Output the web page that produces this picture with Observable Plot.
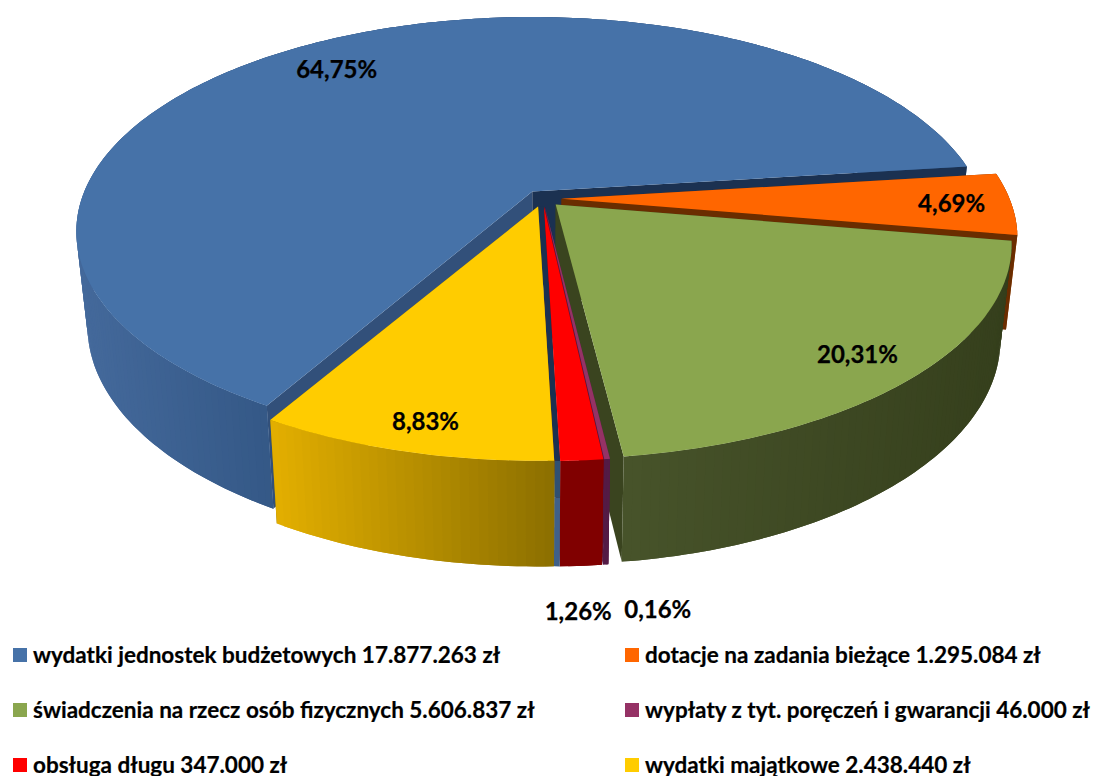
<!DOCTYPE html>
<html lang="pl">
<head>
<meta charset="utf-8">
<script src="https://cdn.jsdelivr.net/npm/d3@7"></script>
<script src="https://cdn.jsdelivr.net/npm/@observablehq/plot@0.6"></script>
<style>
html,body{margin:0;padding:0;background:#fff;overflow:hidden;width:1096px;height:776px}
#chart svg{display:block;background:#fff}
#legend{position:absolute;left:13px;top:648px;display:grid;grid-template-columns:612px 470px;grid-auto-rows:55px;font:700 22.5px Lato,sans-serif;color:#000;white-space:nowrap;-webkit-text-stroke:0.2px #000}
#legend div{display:flex;align-items:flex-start;height:55px}
#legend i{display:block;width:14px;height:14px;margin-right:6px;flex:none}
#legend span{display:block;line-height:14px;position:relative;top:0}
</style>
</head>
<body>
<div id="chart"></div>
<div id="legend"></div>
<script>
// Data, in the order the slices run clockwise
const names = ["wydatki jednostek budżetowych","dotacje na zadania bieżące","świadczenia na rzecz osób fizycznych","wypłaty z tyt. poręczeń i gwarancji","obsługa długu","wydatki majątkowe"];
const amounts = [17877263,1295084,5606837,46000,347000,2438440];
const amountLabels = ["17.877.263","1.295.084","5.606.837","46.000","347.000","2.438.440"];
const percentLabels = ["64,75%","4,69%","20,31%","0,16%","1,26%","8,83%"];

// Style
const topColors = ["#4672A8","#FF6600","#8AA64E","#953265","#FF0000","#FFCC00"];
const wallFrom = ["#44699B","#A84700","#47532A","#541B45","#800000","#E2AE00"];
const wallTo = ["#335785","#A84700","#353F1C","#541B45","#800000","#8A6E00"];
const cutHigh = ["#32507A","#6A2D00","#3A441F","#541B45","#800000","#8A6E00"];
const cutLow = ["#1B3151","#6A2D00","#3A441F","#541B45","#800000","#8A6E00"];

// Pie layout (perspective disc)
const cx = 542.2, cy = 198, R = 448, Ry = 207, k = 0.186;
const burstX = 18.8, burstY = 8.3, blueEndDeg = 7.1, drawnSlipDeg = [0,0,0,0.3,0,0];
const labelR = [0.82,0.87,0.87,1.40,1.38,0.89];
const labelNudge = [[-15,4],[-1,1],[-3,3],[17,15],[-23,22],[4,3]];

const total = d3.sum(amounts);
let cursor = blueEndDeg + amounts[0]/total*360;
const slices = amounts.map((v,i)=>{
  cursor -= drawnSlipDeg[i];
  const span = v/total*360, a1 = cursor, a0 = cursor - span; // clockwise, so degrees fall
  cursor = a0;
  const mid = (a0+a1)/2*Math.PI/180;
  return {i, a0, a1, ox: burstX*Math.cos(mid), oy: -burstY*Math.sin(mid), mid};
});
function face(s,u,v){const w=1+k*v;return [cx+s.ox+R*u/w, cy+s.oy-Ry*v/w];}
function drop([x,y]){return [cx+(x-cx)*0.976, y+93+0.048*(y-cy)];}
function rim(s,deg){const t=deg*Math.PI/180;return face(s,Math.cos(t),Math.sin(t));}
const lerp=(a,b,t)=>[a[0]+(b[0]-a[0])*t,a[1]+(b[1]-a[1])*t];

const polys=[]; let pid=0;
function poly(pts,color){const id=pid++;for(const p of pts)polys.push({id,x:p[0],y:p[1],color});}

slices.forEach((s,idx)=>{
  const apex=face(s,0,0), apexB=drop(apex);
  const A0=rim(s,s.a0), A1=rim(s,s.a1);
  const lowAfterWall = s.i<=1;
  poly([apex,A1,drop(A1),apexB],cutHigh[idx]);
  if(!lowAfterWall) poly([apex,A0,drop(A0),apexB],cutLow[idx]);
  // outer wall as overlapping strips, so the shade runs along it without seams
  const n=Math.max(2,Math.ceil(s.a1-s.a0));
  const pts=d3.range(n+1).map(j=>rim(s,s.a0+(s.a1-s.a0)*j/n));
  const ext=d3.extent(pts,p=>p[0]);
  const mix=d3.interpolateRgb(wallFrom[idx],wallTo[idx]);
  const lo=s.i===0?78:ext[0], hi=s.i===0?277:ext[1];
  for(let j=0;j<n;j++){
    const p=pts[j],q=pts[j+1],r=pts[Math.min(n,j+2)];
    const t=Math.min(1,Math.max(0,(p[0]-lo)/(hi-lo)));
    poly([p,q,r,drop(r),drop(q),drop(p)],mix(t));
  }
  if(lowAfterWall) poly([apex,A0,drop(A0),apexB],cutLow[idx]);
  if(s.i===4){
    // what shows through the gap between the yellow and red blocks
    const y=slices[5], yA=face(y,0,0), yE=rim(y,y.a1), rA=apex, rE=A0;
    poly([yA,yE,rE,rA],"#1B3151");
    poly([yE,lerp(yE,drop(yE),.35),lerp(rE,drop(rE),.35),rE],"#2F5072");
    poly([lerp(yE,drop(yE),.35),drop(yE),drop(rE),lerp(rE,drop(rE),.35)],"#3F6088");
  }
  // top face of this slice
  const m=Math.max(3,Math.ceil(s.a1-s.a0));
  poly([apex,...d3.range(m+1).map(j=>rim(s,s.a0+(s.a1-s.a0)*j/m))],topColors[idx]);
});
const labels=slices.map((s,idx)=>{
  const r=labelR[idx];
  const p=face(s,r*Math.cos(s.mid),r*Math.sin(s.mid));
  return {x:p[0]+labelNudge[idx][0],y:p[1]+labelNudge[idx][1],text:percentLabels[idx]};
});

const chart=Plot.plot({
  width:1096,height:640,margin:0,
  x:{domain:[0,1096],range:[0,1096],axis:null},
  y:{domain:[0,640],range:[0,640],axis:null},
  marks:[
    Plot.line(polys,{x:"x",y:"y",z:"id",fill:"color",curve:"linear-closed"}),
    Plot.text(labels,{x:"x",y:"y",text:"text",fontSize:24,fontWeight:700,fontFamily:"Lato, sans-serif",fill:"#000",stroke:"#000",strokeWidth:0.25,letterSpacing:-0.4})
  ]
});
document.getElementById("chart").append(chart);

const legend=document.getElementById("legend");
amounts.forEach((_,i)=>{
  const d=document.createElement("div");
  const sw=document.createElement("i");sw.style.background=topColors[i];
  const t=document.createElement("span");t.textContent=names[i]+" "+amountLabels[i]+" zł";
  d.append(sw,t);legend.append(d);
});
</script>
</body>
</html>
